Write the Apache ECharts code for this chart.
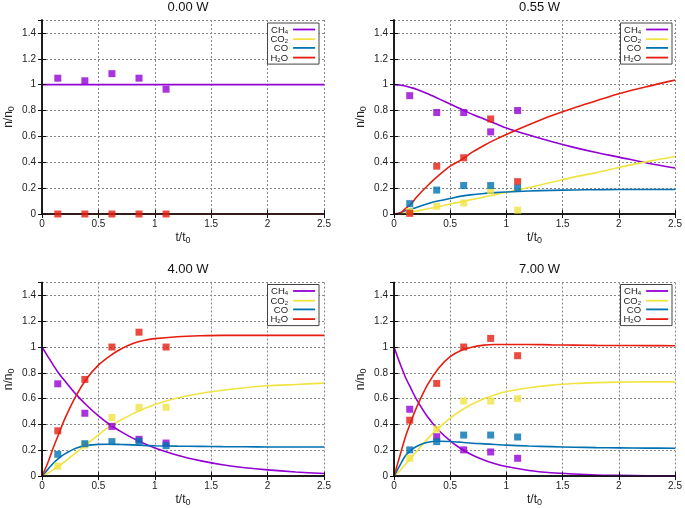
<!DOCTYPE html>
<html>
<head>
<meta charset="utf-8">
<script src="https://cdn.jsdelivr.net/npm/echarts@6/dist/echarts.min.js"></script>
<style>html,body{margin:0;padding:0;background:#fff;}#c{width:685px;height:508px;}</style>
</head>
<body>
<div id="c"></div>
<script>
// ---- data ----
const panelTitles = ['0.00 W', '0.55 W', '4.00 W', '7.00 W'];
const species = ['CH4', 'CO2', 'CO', 'H2O'];
const speciesColors = ['#9400d3', '#f0e442', '#0072b2', '#e51e10'];
const xTicks = [0, 0.5, 1, 1.5, 2, 2.5];
const yTicks = [0, 0.2, 0.4, 0.6, 0.8, 1, 1.2, 1.4];

// measured points (t/t0)
const tExp = [0.14, 0.38, 0.62, 0.86, 1.10];
// 0.00 W
const exp0_CH4 = [1.05, 1.03, 1.085, 1.05, 0.965];
const exp0_CO2 = [null, null, null, null, null];
const exp0_CO  = [null, null, null, null, null];
const exp0_H2O = [0, 0, 0, 0, 0];
// 0.55 W
const exp1_CH4 = [0.915, 0.785, 0.785, 0.635, 0.80];
const exp1_CO2 = [0.02, 0.06, 0.085, 0.18, 0.03];
const exp1_CO  = [0.08, 0.185, 0.22, 0.22, 0.20];
const exp1_H2O = [0.005, 0.37, 0.435, 0.735, 0.25];
// 4.00 W
const exp2_CH4 = [0.715, 0.487, 0.385, 0.285, 0.256];
const exp2_CO2 = [0.077, 0.24, 0.454, 0.533, 0.533];
const exp2_CO  = [0.169, 0.251, 0.267, 0.27, 0.236];
const exp2_H2O = [0.351, 0.749, 1.0, 1.115, 1.0];
// 7.00 W
const exp3_CH4 = [0.518, 0.305, 0.203, 0.187, 0.138];
const exp3_CO2 = [0.138, 0.364, 0.582, 0.582, 0.60];
const exp3_CO  = [0.203, 0.267, 0.318, 0.318, 0.303];
const exp3_H2O = [0.433, 0.718, 1.0, 1.067, 0.933];

// model curves
const tFit = [0, 0.05, 0.1, 0.15, 0.2, 0.3, 0.4, 0.5, 0.6, 0.7, 0.8, 0.9, 1.0, 1.2, 1.4, 1.6, 1.8, 2.0, 2.25, 2.5];
// 0.00 W
const fit0_CH4 = [1, 1, 1, 1, 1, 1, 1, 1, 1, 1, 1, 1, 1, 1, 1, 1, 1, 1, 1, 1];
const fit0_CO2 = [0, 0, 0, 0, 0, 0, 0, 0, 0, 0, 0, 0, 0, 0, 0, 0, 0, 0, 0, 0];
const fit0_CO  = [0, 0, 0, 0, 0, 0, 0, 0, 0, 0, 0, 0, 0, 0, 0, 0, 0, 0, 0, 0];
const fit0_H2O = [0, 0, 0, 0, 0, 0, 0, 0, 0, 0, 0, 0, 0, 0, 0, 0, 0, 0, 0, 0];
// 0.55 W
const fit1_CH4 = [1.0, 0.997, 0.99, 0.978, 0.965, 0.93, 0.89, 0.85, 0.81, 0.77, 0.735, 0.70, 0.665, 0.61, 0.56, 0.515, 0.475, 0.44, 0.395, 0.355];
const fit1_CO2 = [0, 0.003, 0.008, 0.014, 0.022, 0.04, 0.058, 0.077, 0.095, 0.113, 0.132, 0.15, 0.168, 0.205, 0.245, 0.285, 0.32, 0.36, 0.405, 0.445];
const fit1_CO  = [0, 0.008, 0.025, 0.038, 0.05, 0.08, 0.102, 0.12, 0.138, 0.15, 0.158, 0.165, 0.17, 0.178, 0.183, 0.186, 0.188, 0.19, 0.19, 0.19];
const fit1_H2O = [0, 0.005, 0.04, 0.075, 0.13, 0.22, 0.30, 0.37, 0.42, 0.48, 0.53, 0.575, 0.615, 0.69, 0.76, 0.82, 0.875, 0.93, 0.985, 1.035];
// 4.00 W
const fit2_CH4 = [1.0, 0.93, 0.86, 0.795, 0.74, 0.635, 0.545, 0.467, 0.40, 0.345, 0.296, 0.254, 0.218, 0.162, 0.12, 0.088, 0.065, 0.048, 0.032, 0.02];
const fit2_CO2 = [0, 0.022, 0.05, 0.08, 0.11, 0.18, 0.25, 0.32, 0.385, 0.435, 0.48, 0.52, 0.555, 0.605, 0.64, 0.665, 0.685, 0.70, 0.71, 0.72];
const fit2_CO  = [0, 0.05, 0.1, 0.14, 0.17, 0.215, 0.238, 0.246, 0.247, 0.245, 0.242, 0.238, 0.235, 0.232, 0.23, 0.228, 0.227, 0.226, 0.225, 0.225];
const fit2_H2O = [0, 0.1, 0.22, 0.33, 0.44, 0.62, 0.76, 0.86, 0.93, 0.985, 1.025, 1.05, 1.065, 1.08, 1.087, 1.09, 1.09, 1.09, 1.09, 1.09];
// 7.00 W
const fit3_CH4 = [1.0, 0.88, 0.77, 0.68, 0.595, 0.458, 0.353, 0.273, 0.21, 0.162, 0.125, 0.096, 0.074, 0.044, 0.026, 0.016, 0.009, 0.006, 0.003, 0.002];
const fit3_CO2 = [0, 0.04, 0.09, 0.14, 0.19, 0.29, 0.375, 0.45, 0.51, 0.56, 0.60, 0.63, 0.655, 0.685, 0.705, 0.717, 0.724, 0.728, 0.73, 0.73];
const fit3_CO  = [0, 0.08, 0.155, 0.2, 0.23, 0.262, 0.27, 0.268, 0.262, 0.255, 0.25, 0.245, 0.24, 0.233, 0.228, 0.224, 0.221, 0.219, 0.217, 0.216];
const fit3_H2O = [0, 0.15, 0.3, 0.42, 0.53, 0.71, 0.84, 0.925, 0.975, 1.0, 1.015, 1.02, 1.02, 1.02, 1.017, 1.015, 1.013, 1.012, 1.011, 1.01];

const expData = [
  [exp0_CH4, exp0_CO2, exp0_CO, exp0_H2O],
  [exp1_CH4, exp1_CO2, exp1_CO, exp1_H2O],
  [exp2_CH4, exp2_CO2, exp2_CO, exp2_H2O],
  [exp3_CH4, exp3_CO2, exp3_CO, exp3_H2O]
];
const fitData = [
  [fit0_CH4, fit0_CO2, fit0_CO, fit0_H2O],
  [fit1_CH4, fit1_CO2, fit1_CO, fit1_H2O],
  [fit2_CH4, fit2_CO2, fit2_CO, fit2_H2O],
  [fit3_CH4, fit3_CO2, fit3_CO, fit3_H2O]
];

// ---- layout ----
const FONT = 'Liberation Sans, Arial, sans-serif';
const grids = [
  {left: 42, top: 20, width: 282, height: 194},
  {left: 394, top: 20, width: 281, height: 194},
  {left: 42, top: 282.5, width: 282, height: 195},
  {left: 394, top: 282.5, width: 281, height: 195}
];
const legendPos = [
  {right: 366, top: 23},
  {right: 13, top: 23},
  {right: 366, top: 284.5},
  {right: 13, top: 284.5}
];
const legendLabels = {
  CH4: '{b|CH}{s|4}', CO2: '{b|CO}{s|2}', CO: '{b|CO}', H2O: '{b|H}{s|2}{b|O}'
};
const labelFont = {fontFamily: FONT, fontSize: 10, color: '#222'};
const gridLine = {show: true, lineStyle: {type: [2, 2], color: '#888', width: 1}};
const frameLine = {show: true, lineStyle: {color: '#111', width: 1.5}};
const tickIn = {show: true, inside: true, length: 4, lineStyle: {color: '#111', width: 1}};

const xAxes = [], yAxes = [], series = [], titles = [], legends = [];
grids.forEach((g, p) => {
  const cx = g.left + g.width / 2;
  titles.push({text: panelTitles[p], left: cx, top: p < 2 ? -4 : 258, textAlign: 'center',
    textStyle: {fontFamily: FONT, fontSize: 13, fontWeight: 'normal', color: '#111'}});
  const xBase = {type: 'value', gridIndex: p, min: xTicks[0], max: xTicks[xTicks.length - 1], interval: xTicks[1] - xTicks[0]};
  const yBase = {type: 'value', gridIndex: p, min: 0, max: 1.5, interval: yTicks[1] - yTicks[0]};
  xAxes.push(Object.assign({}, xBase, {
    position: 'bottom', z: 3, axisLine: frameLine, axisTick: tickIn,
    axisLabel: Object.assign({margin: 5}, labelFont), splitLine: {show: false},
    name: '{a|t/t}{s|0}', nameLocation: 'middle', nameGap: 16,
    nameTextStyle: {fontFamily: FONT, color: '#222', rich: {
      a: {fontFamily: FONT, fontSize: 12, color: '#222', lineHeight: 12, verticalAlign: 'top'},
      s: {fontFamily: FONT, fontSize: 9, color: '#222', lineHeight: 9, padding: [6, 0, 0, 0]}}}
  }));
  xAxes.push(Object.assign({}, xBase, {
    position: 'top', z: 0, axisLine: frameLine, axisTick: tickIn,
    axisLabel: {show: false}, splitLine: gridLine
  }));
  yAxes.push(Object.assign({}, yBase, {
    position: 'left', z: 3, axisLine: frameLine, axisTick: tickIn,
    axisLabel: Object.assign({margin: 6, showMaxLabel: false}, labelFont), splitLine: {show: false},
    name: '{a|n/n}{s|0}', nameLocation: 'middle', nameGap: 27, nameRotate: 90,
    nameTextStyle: {fontFamily: FONT, color: '#222', rich: {
      a: {fontFamily: FONT, fontSize: 12, color: '#222', lineHeight: 12, verticalAlign: 'top'},
      s: {fontFamily: FONT, fontSize: 9, color: '#222', lineHeight: 9, padding: [6, 0, 0, 0]}}}
  }));
  yAxes.push(Object.assign({}, yBase, {
    position: 'right', z: 0, axisLine: frameLine, axisTick: tickIn,
    axisLabel: {show: false}, splitLine: gridLine
  }));
  species.forEach((s, k) => {
    series.push({
      type: 'line', name: s, xAxisIndex: 2 * p, yAxisIndex: 2 * p,
      data: tFit.map((t, i) => [t, fitData[p][k][i]]),
      symbol: 'none', smooth: 0.3, z: 2, silent: true,
      lineStyle: {color: speciesColors[k], width: 1.6}, itemStyle: {color: speciesColors[k]}
    });
  });
  // draw order of the measured squares: CH4, CO2, H2O, CO
  [0, 1, 3, 2].forEach(k => {
    series.push({
      type: 'scatter', name: species[k] + ' data', xAxisIndex: 2 * p, yAxisIndex: 2 * p,
      data: tExp.map((t, i) => [t, expData[p][k][i]]).filter(d => d[1] !== null),
      symbol: 'rect', symbolSize: 7, z: 4, silent: true,
      itemStyle: {color: speciesColors[k]}
    });
  });
  legends.push({
    orient: 'vertical', right: legendPos[p].right, top: legendPos[p].top, align: 'right',
    itemWidth: 22, itemHeight: 8, itemGap: -1.3, padding: [1, 3, 1, 3],
    borderColor: '#444', borderWidth: 1, backgroundColor: '#fff', selectedMode: false,
    data: species.slice(),
    itemStyle: {opacity: 0},
    lineStyle: {width: 1.8, opacity: 1},
    formatter: n => legendLabels[n],
    textStyle: {fontFamily: FONT, color: '#222', fontSize: 9, rich: {
      b: {fontFamily: FONT, fontSize: 9.5, color: '#222', lineHeight: 9, verticalAlign: 'top'},
      s: {fontFamily: FONT, fontSize: 6, color: '#222', lineHeight: 6, padding: [5, 0, 0, 0]}}}
  });
});

const chart = echarts.init(document.getElementById('c'), null, {renderer: 'canvas'});
chart.setOption({
  animation: false,
  backgroundColor: '#fff',
  title: titles,
  grid: grids,
  xAxis: xAxes,
  yAxis: yAxes,
  legend: legends,
  series: series
});
</script>
</body>
</html>
